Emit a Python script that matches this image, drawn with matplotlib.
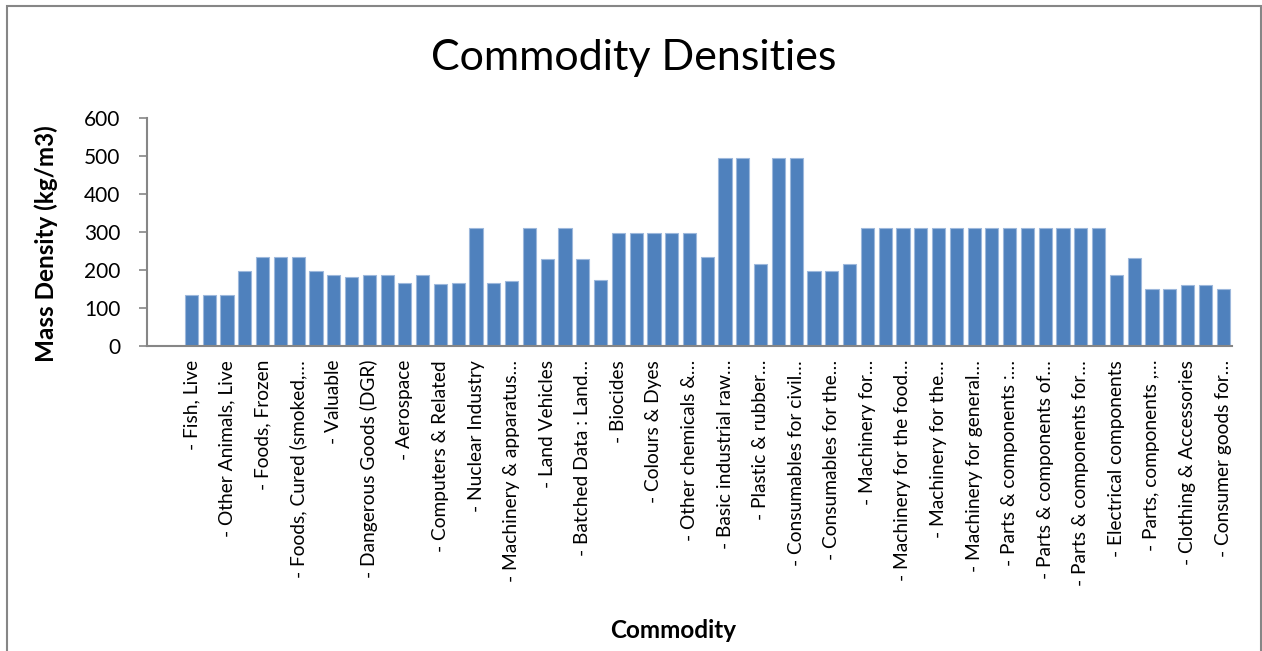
"""Commodity densities bar chart (Excel-style)."""

import matplotlib
matplotlib.use("Agg")
import matplotlib.pyplot as plt
import numpy as np
from matplotlib.patches import Rectangle

# 61 category slots; labels are shown on every other slot, the first two are empty
SHOWN_LABELS = [
    "",
    "- Fish, Live",
    "- Other Animals, Live",
    "- Foods, Frozen",
    "- Foods, Cured (smoked,…",
    "- Valuable",
    "- Dangerous Goods (DGR)",
    "- Aerospace",
    "- Computers & Related",
    "- Nuclear Industry",
    "- Machinery & apparatus…",
    "- Land Vehicles",
    "- Batched Data : Land…",
    "- Biocides",
    "- Colours & Dyes",
    "- Other chemicals &…",
    "- Basic industrial raw…",
    "- Plastic & rubber…",
    "- Consumables for civil…",
    "- Consumables for the…",
    "- Machinery for…",
    "- Machinery for the food…",
    "- Machinery for the…",
    "- Machinery for general…",
    "- Parts & components :…",
    "- Parts & components of…",
    "- Parts & components for…",
    "- Electrical components",
    "- Parts, components ,…",
    "- Clothing & Accessories",
    "- Consumer goods for…",
]

DENSITIES = [
    0, 0,
    135, 135, 135, 198, 233, 233, 233, 198, 186, 182,
    186, 186, 166, 187, 163, 165, 310, 165, 171, 310,
    228, 310, 228, 174, 298, 298, 298, 298, 298, 233,
    495, 495, 216, 495, 495, 198, 198, 216, 310, 310,
    310, 310, 310, 310, 310, 310, 310, 310, 310, 310,
    310, 310, 187, 231, 149, 149, 161, 161, 149,
]

FONT = "Lato"
GREY = "#868686"

fig = plt.figure(figsize=(12.62, 6.51), dpi=100)
ax = fig.add_axes([147 / 1262, 1 - 346 / 651, (1232 - 147) / 1262, (346 - 118) / 651])

x = np.arange(len(DENSITIES))
ax.bar(x, DENSITIES, width=0.74, color="#4F81BD", edgecolor="#9DB8DC", linewidth=0.8)

ax.set_xlim(-0.5, len(DENSITIES) - 0.5)
ax.set_ylim(0, 600)
ax.set_yticks(np.arange(0, 601, 100))
ax.set_xticks(x[::2])
ax.set_xticklabels(SHOWN_LABELS, rotation=90, ha="center", va="top",
                   fontsize=13.8, family=FONT)
ax.tick_params(axis="x", length=0, pad=10)
ax.tick_params(axis="y", length=6, color=GREY, width=1.2, pad=13,
               labelsize=15, direction="out")
for lab in ax.get_yticklabels():
    lab.set_family(FONT)

for side in ("top", "right"):
    ax.spines[side].set_visible(False)
for side in ("left", "bottom"):
    ax.spines[side].set_color(GREY)
    ax.spines[side].set_linewidth(1.5)

fig.text(634 / 1262, 1 - 58 / 651, "Commodity Densities", ha="center",
         va="center", fontsize=31, family=FONT)
fig.text(46 / 1262, 1 - 244 / 651, "Mass Density (kg/m3)", rotation=90,
         ha="center", va="center", fontsize=17.5, fontweight="bold", family=FONT)
fig.text(673 / 1262, 1 - 630 / 651, "Commodity", ha="center", va="center",
         fontsize=17.5, fontweight="bold", family=FONT)

# chart-area border, open at the bottom like the cropped original
fig.patches.append(Rectangle((7 / 1262, -0.05), (1261 - 7) / 1262, 1.05 - 6 / 651,
                             transform=fig.transFigure, fill=False,
                             edgecolor=GREY, linewidth=1.5))

fig.savefig("out.png", dpi=100)
